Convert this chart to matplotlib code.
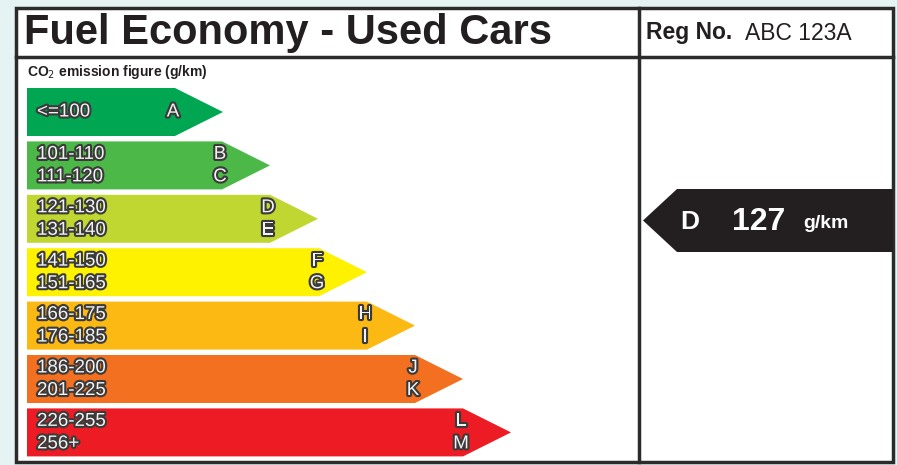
import matplotlib.pyplot as plt
from matplotlib.patches import Polygon, Rectangle
import matplotlib.patheffects as pe

# data
band_ranges = [["<=100"], ["101-110", "111-120"], ["121-130", "131-140"],
               ["141-150", "151-165"], ["166-175", "176-185"],
               ["186-200", "201-225"], ["226-255", "256+"]]
band_letters = [["A"], ["B", "C"], ["D", "E"], ["F", "G"], ["H", "I"],
                ["J", "K"], ["L", "M"]]
band_colors = ["#00a651", "#4cb848", "#bfd730", "#fff200", "#fdb913",
               "#f37021", "#ed1c24"]
band_ends = [175, 222, 270, 319, 367, 415, 463]   # end of the flat part (px)

title = "Fuel Economy - Used Cars"
reg_label = "Reg No."
reg_value = "ABC 123A"
car_letter = "D"
car_value = 127
unit = "g/km"
axis_label = "CO$_2$ emission figure (g/km)"

plt.rcParams['font.family'] = ['Liberation Sans', 'DejaVu Sans']

W, H = 897, 465
fig = plt.figure(figsize=(W / 100, H / 100), dpi=100)
fig.patch.set_facecolor("#e5f3f4")
ax = fig.add_axes([0, 0, 1, 1])
ax.set_xlim(0, W)
ax.set_ylim(H, 0)
ax.axis("off")

# frame
lc = "#2b2b2b"
ax.add_patch(Rectangle((16, 8), 877, 454, facecolor="white", edgecolor=lc, lw=2.5, zorder=1))
ax.plot([16, 893], [57, 57], color=lc, lw=2.5, zorder=2)
ax.plot([639, 639], [8, 462], color=lc, lw=2.5, zorder=2)

ax.text(24, 33, title, fontsize=30, fontweight="bold", color="#231f20", va="center", ha="left")
ax.text(646, 33, reg_label, fontsize=16.5, fontweight="bold", color="#231f20", va="center")
ax.text(745, 33, reg_value, fontsize=16.5, color="#231f20", va="center")
ax.text(27, 72, axis_label, fontsize=10, fontweight="bold", color="#231f20", va="center")

# bands
x0 = 27
top0 = 88
pitch = 53.4
bh = 48
tip = 48
txt_fx = [pe.withStroke(linewidth=3, foreground="#3a3a3a")]
for i, (rngs, lets, col, xe) in enumerate(zip(band_ranges, band_letters, band_colors, band_ends)):
    yt = top0 + i * pitch
    yb = yt + bh
    ym = (yt + yb) / 2
    ax.add_patch(Polygon([(x0, yt), (xe, yt), (xe + tip, ym), (xe, yb), (x0, yb)],
                         closed=True, facecolor=col, edgecolor="none", zorder=3))
    if len(rngs) == 1:
        ys = [ym]
    else:
        ys = [ym - 11, ym + 11.5]
    for r, l, y in zip(rngs, lets, ys):
        ax.text(37, y, r, fontsize=13.5, color="#f2f2f2", va="center", ha="left",
                path_effects=txt_fx, zorder=4)
        ax.text(xe - 2, y, l, fontsize=13.5, color="#f2f2f2", va="center", ha="center",
                path_effects=txt_fx, zorder=4)

# indicator arrow
at, ab = 189, 252
am = (at + ab) / 2
ax.add_patch(Polygon([(643, am), (677, at), (893, at), (893, ab), (677, ab)],
                     closed=True, facecolor="#231f20", edgecolor="none", zorder=3))
ax.text(690, am + 1, car_letter, fontsize=19, fontweight="bold", color="white",
        va="center", ha="center", zorder=4)
ax.text(759, am + 1, str(car_value), fontsize=23, fontweight="bold", color="white",
        va="center", ha="center", zorder=4)
ax.text(803, am + 3, unit, fontsize=14, fontweight="bold", color="white",
        va="center", ha="left", zorder=4)

fig.savefig("out.png", dpi=100, facecolor=fig.get_facecolor())
